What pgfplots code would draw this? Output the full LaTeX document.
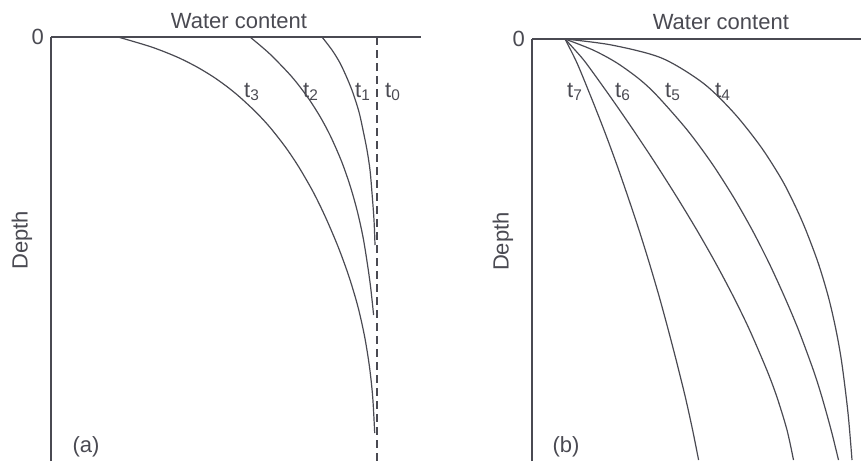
\documentclass[border=0pt]{standalone}
\usepackage{pgfplots}
\pgfplotsset{compat=1.18}
\usepackage{fontspec}
\setmainfont{Liberation Sans}

\definecolor{ink}{HTML}{4A4A52}

\pgfplotsset{
    profile/.style={
        scale only axis,
        axis x line=top,
        axis y line=left,
        axis line style={-, ink, line width=0.7pt},
        xtick=\empty,
        ytick={0},
        yticklabels={0},
        major tick length=0pt,
        yticklabel style={font=\fontsize{11}{13}\selectfont, text=ink},
        clip=false,
    },
    curve/.style={ink, line width=0.6pt, no markers, smooth, tension=0.5},
}

\begin{document}
\begin{tikzpicture}
\path[use as bounding box] (-25.5pt,18.5pt) rectangle (405pt,-212pt);

% (a) drainage: profiles drop from the initial one
\begin{axis}[profile,
    at={(0pt,0pt)}, anchor=north west,
    width=185pt, height=212pt,
    xmin=0, xmax=370, ymin=-424, ymax=0,
]
\addplot[ink, line width=0.6pt, no markers, dash pattern=on 4pt off 2.5pt] coordinates {(326,0) (326,-424)};
\addplot[curve] coordinates {(271,0) (281,-13) (289,-26) (296,-41) (302,-56) (308,-75) (312,-93) (316,-113) (319,-133) (321,-156) (323,-183) (324,-208)};
\addplot[curve] coordinates {(199,0) (211,-10) (222,-20) (241,-40) (256.5,-60) (269.3,-80) (279.9,-100) (290.8,-125) (299.5,-150) (306.5,-175) (312,-200) (316.1,-225) (319.6,-250) (322.6,-278)};
\addplot[curve] coordinates {(67,0) (100.5,-10) (126,-20) (146,-30) (162.5,-40) (176.5,-50) (188.7,-60) (204.8,-75) (218.7,-90) (234.4,-110) (247.8,-130) (262.2,-155) (274.4,-180) (287.2,-210) (298.1,-240) (307,-270) (313.7,-300) (318.5,-330) (321.7,-360) (323.7,-396)};
\begin{scope}[every node/.style={font=\fontsize{11}{13}\selectfont, text=ink}]
\node at (axis cs:201,-55) {t\textsubscript{3}};
\node at (axis cs:260,-55) {t\textsubscript{2}};
\node at (axis cs:312,-55) {t\textsubscript{1}};
\node at (axis cs:342,-55) {t\textsubscript{0}};
\node at (axis cs:35,-410) {(a)};
\node at (axis description cs:0.508,1) [anchor=base, yshift=4.5pt] {Water content};
\node at (axis description cs:0,0.52) [rotate=90, anchor=center, yshift=14.5pt] {Depth};
\end{scope}
\end{axis}

% (b) wetting: profiles spread from the surface
\begin{axis}[profile,
    at={(240.5pt,-1pt)}, anchor=north west,
    width=164.5pt, height=211pt,
    xmin=0, xmax=329, ymin=-422, ymax=0,
]
\addplot[curve] coordinates {(33,0) (79.5,-6) (129.5,-19) (171,-44) (202,-74) (229,-108) (250,-141) (263.7,-168) (273.8,-191) (286.2,-224) (296.4,-258) (304,-291) (309.8,-324) (316,-374) (320,-421)};
\addplot[curve] coordinates {(33,0) (61,-11) (85,-24) (108.4,-41) (126.3,-58) (155.2,-91) (179.6,-124) (201.4,-158) (220.2,-191) (237,-224) (252.6,-258) (266.5,-291) (281.3,-331) (289.9,-358) (299.1,-391) (306.5,-421)};
\addplot[curve] coordinates {(33,0) (43,-11) (54,-24) (78.5,-58) (101.3,-91) (123.2,-124) (144.8,-158) (164.8,-191) (183.6,-224) (201.6,-258) (217.6,-291) (234.8,-331) (244.9,-358) (255,-391) (261.5,-421)};
\addplot[curve] coordinates {(33,0) (45,-24) (59,-58) (72,-91) (84.2,-124) (96,-158) (107,-191) (117.3,-224) (127.3,-258) (136.3,-291) (144.9,-324) (153.3,-358) (160.6,-391) (166.6,-421)};
\begin{scope}[every node/.style={font=\fontsize{11}{13}\selectfont, text=ink}]
\node at (axis cs:43,-53) {t\textsubscript{7}};
\node at (axis cs:91,-53) {t\textsubscript{6}};
\node at (axis cs:141,-53) {t\textsubscript{5}};
\node at (axis cs:191,-53) {t\textsubscript{4}};
\node at (axis cs:34,-408) {(b)};
\node at (axis description cs:0.574,1) [anchor=base, yshift=5pt] {Water content};
\node at (axis description cs:0,0.52) [rotate=90, anchor=center, yshift=14.5pt] {Depth};
\end{scope}
\end{axis}
\end{tikzpicture}
\end{document}
